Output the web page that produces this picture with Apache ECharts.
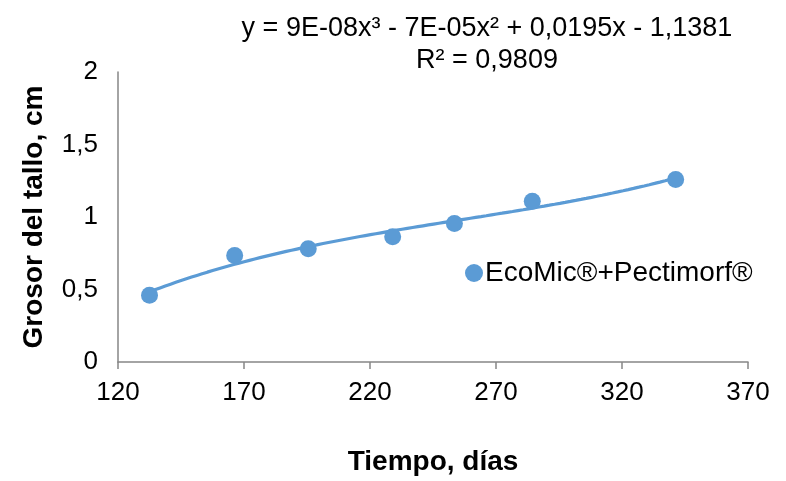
<!DOCTYPE html>
<html>
<head>
<meta charset="utf-8">
<script src="https://cdn.jsdelivr.net/npm/echarts@6/dist/echarts.min.js"></script>
<style>
  html, body { margin: 0; padding: 0; background: #fff; }
  #chart { width: 786px; height: 481px; }
</style>
</head>
<body>
<div id="chart"></div>
<script>
// Days after planting and stem thickness (cm)
const dias = [132.5, 166.3, 195.5, 229, 253.5, 284.4, 341.3];
const grosor = [0.46, 0.735, 0.781, 0.864, 0.955, 1.109, 1.258];
const xTicks = [120, 170, 220, 270, 320, 370];
const yTicks = [0, 0.5, 1, 1.5, 2];
const serieNombre = 'EcoMic®+Pectimorf®';
const ecuacion = 'y = 9E-08x³ - 7E-05x² + 0,0195x - 1,1381';
const r2 = 'R² = 0,9809';

// Least-squares cubic fit of the measured points (trend line)
function polyFit(xs, ys, deg) {
  const n = deg + 1;
  const A = Array.from({ length: n }, () => new Array(n + 1).fill(0));
  for (let i = 0; i < xs.length; i++) {
    const p = [];
    for (let k = 0; k < 2 * n; k++) p.push(Math.pow(xs[i], k));
    for (let r = 0; r < n; r++) {
      for (let c = 0; c < n; c++) A[r][c] += p[r + c];
      A[r][n] += ys[i] * p[r];
    }
  }
  for (let c = 0; c < n; c++) {
    let piv = c;
    for (let r = c + 1; r < n; r++) if (Math.abs(A[r][c]) > Math.abs(A[piv][c])) piv = r;
    [A[c], A[piv]] = [A[piv], A[c]];
    for (let r = 0; r < n; r++) {
      if (r === c) continue;
      const f = A[r][c] / A[c][c];
      for (let k = c; k <= n; k++) A[r][k] -= f * A[c][k];
    }
  }
  return A.map((row, i) => row[n] / row[i]);
}
const coef = polyFit(dias, grosor, 3);
const tendencia = [];
const x0 = dias[0], x1 = dias[dias.length - 1];
for (let i = 0; i <= 100; i++) {
  const x = x0 + (x1 - x0) * i / 100;
  let y = 0;
  for (let k = 0; k < coef.length; k++) y += coef[k] * Math.pow(x, k);
  tendencia.push([x, y]);
}

const font = 'Liberation Sans, Arial, sans-serif';
const axisGray = '#868686';
const azul = '#5B9BD5';
const chart = echarts.init(document.getElementById('chart'), null, { renderer: 'canvas' });
chart.setOption({
  animation: false,
  backgroundColor: '#fff',
  textStyle: { fontFamily: font },
  grid: { left: 118, top: 72, right: 38, bottom: 118, containLabel: false },
  title: [
    { text: ecuacion, left: 482, top: 10, textAlign: 'center',
      textStyle: { fontFamily: font, fontSize: 27, fontWeight: 'normal', color: '#000' } },
    { text: r2, left: 482, top: 42, textAlign: 'center',
      textStyle: { fontFamily: font, fontSize: 27, fontWeight: 'normal', color: '#000' } }
  ],
  legend: {
    data: [{ name: serieNombre, icon: 'circle', itemStyle: { color: azul, opacity: 1 } }],
    left: 460, top: 254,
    itemWidth: 18, itemHeight: 18, itemGap: 4,
    textStyle: { fontFamily: font, fontSize: 28, color: '#000', padding: [0, 0, 0, -3] }
  },
  xAxis: {
    type: 'value', min: 120, max: 370, interval: 50,
    name: 'Tiempo, días', nameLocation: 'middle', nameGap: 86,
    nameTextStyle: { fontFamily: font, fontSize: 28, fontWeight: 'bold', color: '#000' },
    axisLine: { show: true, lineStyle: { color: axisGray, width: 1.5 } },
    axisTick: { show: true, length: 7, lineStyle: { color: axisGray, width: 1.5 } },
    axisLabel: { fontFamily: font, fontSize: 26, color: '#000', margin: 18,
      formatter: v => xTicks.includes(v) ? String(v) : '' },
    splitLine: { show: false }
  },
  yAxis: {
    type: 'value', min: 0, max: 2, interval: 0.5,
    name: 'Grosor del tallo, cm', nameLocation: 'middle', nameGap: 70, nameRotate: 90,
    nameTextStyle: { fontFamily: font, fontSize: 28, fontWeight: 'bold', color: '#000' },
    axisLine: { show: true, lineStyle: { color: axisGray, width: 1.5 } },
    axisTick: { show: false },
    axisLabel: { fontFamily: font, fontSize: 26, color: '#000', margin: 20,
      formatter: v => yTicks.includes(v) ? String(v).replace('.', ',') : '' },
    splitLine: { show: false }
  },
  series: [
    {
      name: 'tendencia', type: 'line', data: tendencia, showSymbol: false, symbol: 'none',
      smooth: false, lineStyle: { color: azul, width: 3.2 }, silent: true, z: 2
    },
    {
      name: serieNombre, type: 'scatter',
      data: dias.map((d, i) => [d, grosor[i]]),
      symbol: 'circle', symbolSize: 17,
      itemStyle: { color: azul, opacity: 1 }, z: 3
    }
  ]
});
</script>
</body>
</html>
